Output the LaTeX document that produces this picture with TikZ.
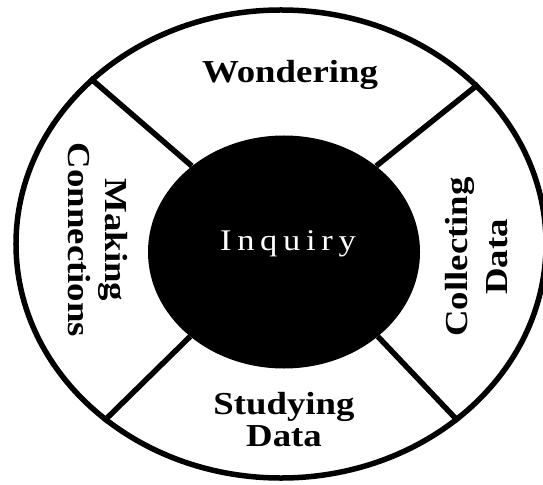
\documentclass[tikz,border=0pt]{standalone}
\usepackage{fontspec}
\setmainfont{Liberation Serif}[FakeStretch=1.15]
\usetikzlibrary{shapes.geometric}

\begin{document}
\begin{tikzpicture}[x=1bp,y=-1bp,
    rim/.style={ellipse,draw,line width=5.5bp,minimum width=530bp,minimum height=468bp,inner sep=0pt},
    core/.style={ellipse,fill=black,minimum width=272bp,minimum height=233bp,inner sep=0pt},
    spoke/.style={line width=5.5bp},
    stage/.style={font=\fontsize{32bp}{37bp}\selectfont\bfseries,align=center,inner sep=0pt}]
            \useasboundingbox (0,0) rectangle (543,485);
            \node[rim] (wheel) at (281,244) {};
            \node[core] (inquiry) at (284,252) {};
            \draw[spoke] (inquiry.137) -- (wheel.139);
            \draw[spoke] (inquiry.43) -- (wheel.39);
            \draw[spoke] (inquiry.222) -- (wheel.225);
            \draw[spoke] (inquiry.318) -- (wheel.315);
            \node[text=white,anchor=base,inner sep=0pt,font=\fontsize{30bp}{36bp}\selectfont\addfontfeatures{LetterSpace=19}] (inqlabel) at (288,250) {Inquiry};
            \node[stage,anchor=base] (wondering) at (290,83) {Wondering};
            \node[stage,rotate=-90] (making) at (98,240) {Making\\Connections};
            \node[stage,rotate=90] (collecting) at (477,257) {Collecting\\[3bp]Data};
            \node[stage] (studying) at (284,420) {Studying\\[-5bp]Data};
        \end{tikzpicture}
\end{document}
